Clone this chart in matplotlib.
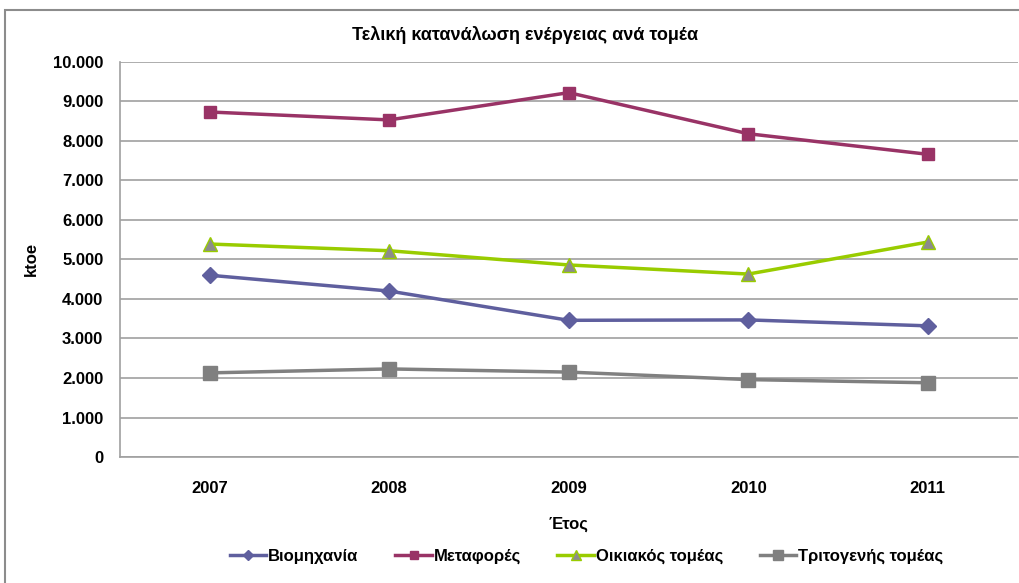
import matplotlib
matplotlib.use("Agg")

import matplotlib.pyplot as plt
from matplotlib.patches import Rectangle
from matplotlib.ticker import FuncFormatter

plt.rcParams["font.family"] = ["Liberation Sans", "DejaVu Sans"]

years = ["2007", "2008", "2009", "2010", "2011"]
industry = [4600, 4200, 3460, 3470, 3320]
transport = [8730, 8530, 9220, 8180, 7660]
household = [5390, 5220, 4860, 4630, 5440]
tertiary = [2130, 2230, 2150, 1960, 1880]

series = [
    ("Βιομηχανία", industry, "#5f5f9e", "D", "#5f5f9e", "#5f5f9e", 8),
    ("Μεταφορές", transport, "#993366", "s", "#993366", "#993366", 9),
    ("Οικιακός τομέας", household, "#99cc00", "^", "#8c8c8c", "#99cc00", 10),
    ("Τριτογενής τομέας", tertiary, "#808080", "s", "#808080", "#808080", 10),
]

fig = plt.figure(figsize=(10.2, 5.83), dpi=100)
ax = fig.add_axes([0.1176, 0.216, 0.880, 0.678])

x = range(len(years))
for name, vals, col, mk, mfc, mec, ms in series:
    ax.plot(x, vals, color=col, lw=2.5, marker=mk, markersize=ms,
            markerfacecolor=mfc, markeredgecolor=mec, label=name)

ax.set_xlim(-0.5, len(years) - 0.5)
ax.set_ylim(0, 10000)
ax.set_yticks(range(0, 10001, 1000))
ax.yaxis.set_major_formatter(FuncFormatter(lambda v, p: f"{int(v):,}".replace(",", ".")))
ax.set_xticks(list(x))
ax.set_xticklabels(years)
ax.tick_params(axis="both", length=0, labelsize=12)
for lbl in ax.get_xticklabels() + ax.get_yticklabels():
    lbl.set_fontweight("bold")
ax.tick_params(axis="y", pad=12)
ax.tick_params(axis="x", pad=17)

ax.grid(axis="y", color="#a0a0a0", lw=1.2)
ax.set_axisbelow(True)
for s in ["top", "right"]:
    ax.spines[s].set_visible(False)
for s in ["left", "bottom"]:
    ax.spines[s].set_color("#a0a0a0")
    ax.spines[s].set_linewidth(1.2)

ax.set_ylabel("ktoe", fontsize=12, fontweight="bold", labelpad=10)
ax.set_xlabel("Έτος", fontsize=12, fontweight="bold", labelpad=15)

fig.text(0.515, 0.94, "Τελική κατανάλωση ενέργειας ανά τομέα", ha="center",
         va="center", fontsize=13, fontweight="bold")

leg = fig.legend(loc="center", bbox_to_anchor=(0.575, 0.045), ncol=4, frameon=False,
                 prop={"weight": "bold", "size": 12}, handlelength=2.2,
                 columnspacing=2.2, handletextpad=0.1, markerscale=0.7)

fig.patches.append(Rectangle((0.005, -0.1), 1.2, 1.083, transform=fig.transFigure,
                             fill=False, edgecolor="#8c8c8c", lw=1.5))

fig.savefig("out.png", dpi=100)
